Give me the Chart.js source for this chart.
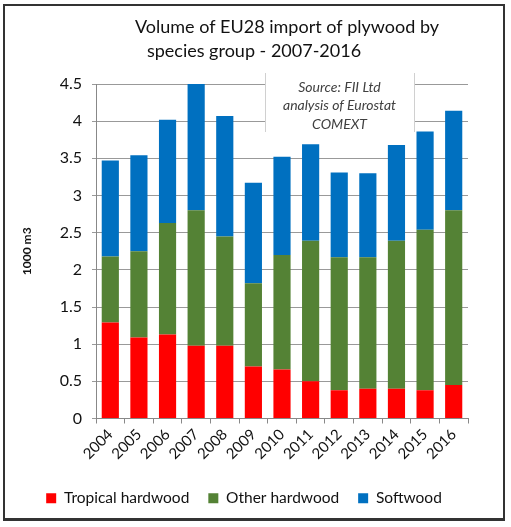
<!DOCTYPE html>
<html>
<head>
<meta charset="utf-8">
<script src="https://cdn.jsdelivr.net/npm/chart.js@4"></script>
<style>
  body { margin: 0; background: #fff; }
  #wrap { position: relative; width: 511px; height: 527px; }
  #frame { position: absolute; left: 3px; top: 4px; width: 498px; height: 512px;
           border: 2px solid #333; border-bottom-width: 3px; pointer-events: none; }
</style>
</head>
<body>
<div id="wrap">
  <canvas id="myChart" width="511" height="527"></canvas>
  <div id="frame"></div>
</div>
<script>
const years = ['2004','2005','2006','2007','2008','2009','2010','2011','2012','2013','2014','2015','2016'];
const tropical = [1.29, 1.09, 1.13, 0.98, 0.98, 0.70, 0.66, 0.50, 0.38, 0.40, 0.40, 0.38, 0.45];
const otherHardwood = [0.89, 1.16, 1.50, 1.82, 1.47, 1.12, 1.54, 1.89, 1.79, 1.77, 1.99, 2.16, 2.35];
const softwood = [1.29, 1.29, 1.39, 1.72, 1.62, 1.35, 1.32, 1.30, 1.14, 1.13, 1.29, 1.32, 1.34];
const titleLines = ['Volume of EU28 import of plywood by', 'species group - 2007-2016'];
const sourceLines = ['Source: FII Ltd', 'analysis of Eurostat', 'COMEXT'];

const fontName = 'Lato, "Open Sans", sans-serif';

// title (two lines, not on the same centre) and the source note box
const notes = {
  id: 'notes',
  afterDatasetsDraw(chart) {
    const c = chart.ctx;
    c.save();
    c.fillStyle = '#111';
    c.font = '18px ' + fontName;
    c.textAlign = 'center';
    c.textBaseline = 'middle';
    c.fillText(titleLines[0], 287, 27);
    c.fillText(titleLines[1], 254, 51);

    const x0 = 265, x1 = 414, y0 = 73, y1 = 132;
    c.fillStyle = '#fff';
    c.fillRect(x0, y0, x1 - x0, y1 - y0);
    c.strokeStyle = '#d0d0d0';
    c.lineWidth = 1;
    c.beginPath();
    c.moveTo(x0 + 0.5, y0); c.lineTo(x0 + 0.5, y1);
    c.moveTo(x1 + 0.5, y0); c.lineTo(x1 + 0.5, y1);
    c.stroke();
    c.fillStyle = '#404040';
    c.font = 'italic 14px ' + fontName;
    sourceLines.forEach((t, i) => c.fillText(t, (x0 + x1) / 2, 87 + i * 18.5));
    c.restore();
  }
};

const ctx = document.getElementById('myChart').getContext('2d');
new Chart(ctx, {
  type: 'bar',
  data: {
    labels: years,
    datasets: [
      { label: 'Tropical hardwood', data: tropical, backgroundColor: '#FF0000' },
      { label: 'Other hardwood', data: otherHardwood, backgroundColor: '#548235' },
      { label: 'Softwood', data: softwood, backgroundColor: '#0070C0' }
    ]
  },
  options: {
    responsive: false,
    animation: false,
    devicePixelRatio: 1,
    layout: { padding: { left: 20, right: 43, top: 84, bottom: 11 } },
    datasets: { bar: { barPercentage: 0.6, categoryPercentage: 1 } },
    plugins: {
      title: { display: false },
      legend: {
        position: 'bottom',
        labels: {
          color: '#111',
          font: { family: fontName, size: 15.5 },
          boxWidth: 10, boxHeight: 10, padding: 19
        }
      },
      tooltip: { enabled: false }
    },
    scales: {
      x: {
        stacked: true,
        afterFit: s => { s.height = 53; },
        grid: { display: true, drawOnChartArea: false, drawTicks: true, tickLength: 5, color: '#888' },
        border: { color: '#888' },
        ticks: { autoSkip: false, color: '#111', font: { family: fontName, size: 15 }, minRotation: 45, maxRotation: 45, padding: 2 }
      },
      y: {
        stacked: true,
        min: 0,
        max: 4.5,
        afterFit: s => { s.width = 76; },
        title: { display: true, text: '1000 m3', color: '#111', font: { family: fontName, size: 12, weight: 'bold' }, padding: 0 },
        grid: { color: '#999', tickLength: 4 },
        border: { color: '#888' },
        ticks: { stepSize: 0.5, color: '#111', font: { family: fontName, size: 16 }, padding: 10, callback: v => String(v) }
      }
    }
  },
  plugins: [notes]
});
</script>
</body>
</html>
